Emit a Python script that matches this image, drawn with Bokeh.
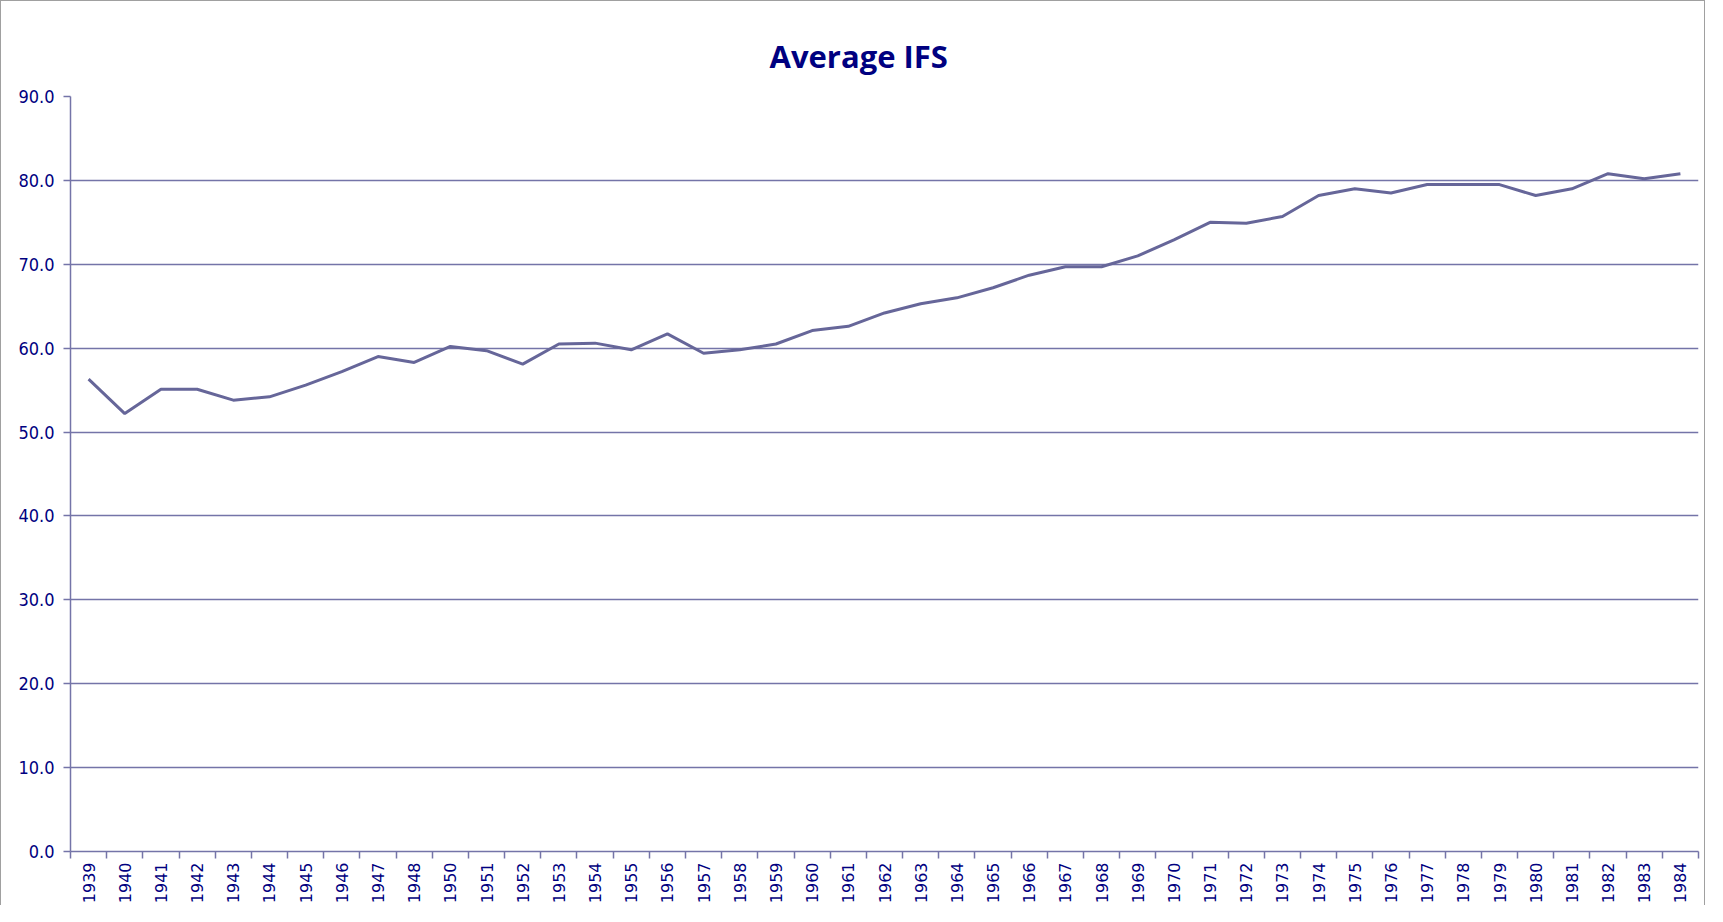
from bokeh.plotting import figure
from bokeh.models import Range1d, FixedTicker, Title, NumeralTickFormatter
from bokeh.embed import file_html
from bokeh.resources import INLINE

years = ["1939", "1940", "1941", "1942", "1943", "1944", "1945", "1946", "1947", "1948",
         "1950", "1951", "1952", "1953", "1954", "1955", "1956", "1957", "1958", "1959",
         "1960", "1961", "1962", "1963", "1964", "1965", "1966", "1967", "1968", "1969",
         "1970", "1971", "1972", "1973", "1974", "1975", "1976", "1977", "1978", "1979",
         "1980", "1981", "1982", "1983", "1984"]
avg_ifs = [56.3, 52.2, 55.1, 55.1, 53.8, 54.2, 55.6, 57.2, 59.0, 58.3,
           60.2, 59.7, 58.1, 60.5, 60.6, 59.8, 61.7, 59.4, 59.8, 60.5,
           62.1, 62.6, 64.2, 65.3, 66.0, 67.2, 68.7, 69.7, 69.7, 71.0,
           72.9, 75.0, 74.9, 75.7, 78.2, 79.0, 78.5, 79.5, 79.5, 79.5,
           78.2, 79.0, 80.8, 80.2, 80.8]
y_ticks = [0, 10, 20, 30, 40, 50, 60, 70, 80, 90]
title_text = "Average IFS"

NAVY = "#000080"
LINE = "#666699"
GRID = "#7474a8"

idx = list(range(len(years)))

p = figure(width=1705, height=905, output_backend="svg", toolbar_location=None,
           x_range=Range1d(-0.5, len(years) - 0.5), y_range=Range1d(y_ticks[0], y_ticks[-1]),
           min_border_left=69, min_border_right=8, min_border_top=95, min_border_bottom=55)
p.styles = {"border-left": "1px solid #a0a0a0", "border-right": "1px solid #a0a0a0",
            "border-top": "1px solid #a0a0a0"}
p.outline_line_color = None
p.background_fill_color = "white"
p.border_fill_color = "white"

t = Title(text=title_text, align="left", offset=699, text_color=NAVY,
          text_font="Open Sans", text_font_size="31px", text_font_style="bold", standoff=39)
p.add_layout(t, "above")

p.line(idx, avg_ifs, line_color=LINE, line_width=3)

# x axis: labels at category centres, ticks at category boundaries
p.xaxis.ticker = FixedTicker(ticks=idx, minor_ticks=[i - 0.5 for i in range(len(years) + 1)])
p.xaxis.major_label_overrides = {i: y for i, y in zip(idx, years)}
p.xaxis.major_label_orientation = 1.5707963
p.xaxis.major_tick_out = 0
p.xaxis.major_tick_in = 0
p.xaxis.minor_tick_out = 7
p.xaxis.minor_tick_in = 0
p.xaxis.minor_tick_line_color = GRID
p.xaxis.axis_line_color = GRID
p.xaxis.axis_line_width = 1.5
p.xaxis.minor_tick_line_width = 1.5
p.xaxis.major_label_standoff = 4
p.xaxis.major_label_text_color = NAVY
p.xaxis.major_label_text_font = "DejaVu Sans"
p.xaxis.major_label_text_font_size = "16px"
p.xgrid.visible = False

p.yaxis.ticker = FixedTicker(ticks=y_ticks)
p.yaxis.formatter = NumeralTickFormatter(format="0.0")
p.yaxis.major_tick_out = 7
p.yaxis.major_tick_in = 0
p.yaxis.minor_tick_line_color = None
p.yaxis.major_tick_line_color = GRID
p.yaxis.axis_line_color = GRID
p.yaxis.axis_line_width = 1.5
p.yaxis.major_tick_line_width = 1.5
p.yaxis.major_label_standoff = 9
p.yaxis.major_label_text_color = NAVY
p.yaxis.major_label_text_font = "DejaVu Sans Condensed, Liberation Sans"
p.yaxis.major_label_text_font_size = "18px"
p.ygrid.ticker = FixedTicker(ticks=y_ticks)
p.ygrid.grid_line_color = GRID
p.ygrid.grid_line_width = 1.5

open("out.html", "w").write(file_html(p, INLINE))
